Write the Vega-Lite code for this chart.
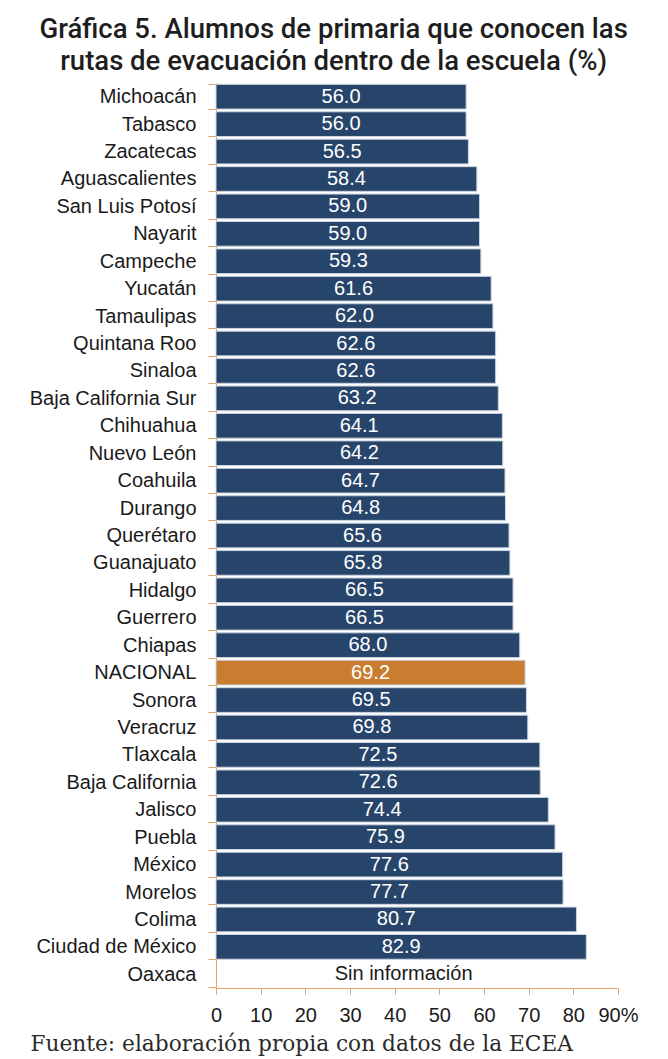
{
  "$schema": "https://vega.github.io/schema/vega-lite/v6.json",
  "autosize": {"type": "none"},
  "padding": {"left": 216, "top": 83, "right": 50, "bottom": 71},
  "width": 402,
  "height": 905,
  "background": "white",
  "title": {
    "text": ["Gráfica 5. Alumnos de primaria que conocen las", "rutas de evacuación dentro de la escuela (%)"],
    "font": "Roboto",
    "fontSize": 27.5,
    "fontWeight": 500,
    "color": "#1e1e1e",
    "anchor": "middle",
    "frame": "bounds",
    "lineHeight": 32,
    "offset": -2
  },
  "data": {
    "values": [
      {"estado": "Michoacán", "valor": 56.0, "tipo": "Estado"},
      {"estado": "Tabasco", "valor": 56.0, "tipo": "Estado"},
      {"estado": "Zacatecas", "valor": 56.5, "tipo": "Estado"},
      {"estado": "Aguascalientes", "valor": 58.4, "tipo": "Estado"},
      {"estado": "San Luis Potosí", "valor": 59.0, "tipo": "Estado"},
      {"estado": "Nayarit", "valor": 59.0, "tipo": "Estado"},
      {"estado": "Campeche", "valor": 59.3, "tipo": "Estado"},
      {"estado": "Yucatán", "valor": 61.6, "tipo": "Estado"},
      {"estado": "Tamaulipas", "valor": 62.0, "tipo": "Estado"},
      {"estado": "Quintana Roo", "valor": 62.6, "tipo": "Estado"},
      {"estado": "Sinaloa", "valor": 62.6, "tipo": "Estado"},
      {"estado": "Baja California Sur", "valor": 63.2, "tipo": "Estado"},
      {"estado": "Chihuahua", "valor": 64.1, "tipo": "Estado"},
      {"estado": "Nuevo León", "valor": 64.2, "tipo": "Estado"},
      {"estado": "Coahuila", "valor": 64.7, "tipo": "Estado"},
      {"estado": "Durango", "valor": 64.8, "tipo": "Estado"},
      {"estado": "Querétaro", "valor": 65.6, "tipo": "Estado"},
      {"estado": "Guanajuato", "valor": 65.8, "tipo": "Estado"},
      {"estado": "Hidalgo", "valor": 66.5, "tipo": "Estado"},
      {"estado": "Guerrero", "valor": 66.5, "tipo": "Estado"},
      {"estado": "Chiapas", "valor": 68.0, "tipo": "Estado"},
      {"estado": "NACIONAL", "valor": 69.2, "tipo": "Nacional"},
      {"estado": "Sonora", "valor": 69.5, "tipo": "Estado"},
      {"estado": "Veracruz", "valor": 69.8, "tipo": "Estado"},
      {"estado": "Tlaxcala", "valor": 72.5, "tipo": "Estado"},
      {"estado": "Baja California", "valor": 72.6, "tipo": "Estado"},
      {"estado": "Jalisco", "valor": 74.4, "tipo": "Estado"},
      {"estado": "Puebla", "valor": 75.9, "tipo": "Estado"},
      {"estado": "México", "valor": 77.6, "tipo": "Estado"},
      {"estado": "Morelos", "valor": 77.7, "tipo": "Estado"},
      {"estado": "Colima", "valor": 80.7, "tipo": "Estado"},
      {"estado": "Ciudad de México", "valor": 82.9, "tipo": "Estado"},
      {"estado": "Oaxaca", "valor": null, "tipo": "Estado"}
    ]
  },
  "transform": [
    {"calculate": "datum.valor == null ? 'Sin información' : format(datum.valor, '.1f')", "as": "etiqueta"},
    {"calculate": "datum.valor == null ? 42 : datum.valor / 2", "as": "posicion"}
  ],
  "encoding": {
    "y": {
      "field": "estado",
      "type": "nominal",
      "sort": null,
      "scale": {"paddingInner": 0.1, "paddingOuter": 0.05},
      "axis": {
        "title": null,
        "labelFont": "Liberation Sans",
        "labelFontSize": 20,
        "labelColor": "#1a1a1a",
        "labelPadding": 12,
        "tickSize": 8,
        "tickColor": "#E3A469",
        "domainColor": "#E3A469",
        "tickBand": "extent",
        "labelLimit": 300
      }
    }
  },
  "layer": [
    {
      "mark": {"type": "bar", "stroke": "#c9d3df", "strokeWidth": 1},
      "encoding": {
        "x": {
          "field": "valor",
          "type": "quantitative",
          "scale": {"domain": [0, 90]},
          "axis": {
            "values": [0, 10, 20, 30, 40, 50, 60, 70, 80, 90],
            "labelExpr": "datum.value == 90 ? '90%' : datum.label",
            "labelOverlap": false,
            "labelBound": false,
            "labelFlush": false,
            "grid": false,
            "labelFont": "Liberation Sans",
            "labelFontSize": 20,
            "labelColor": "#1a1a1a",
            "labelPadding": 11,
            "tickSize": 6,
            "tickColor": "#E3A469",
            "domainColor": "#E3A469",
            "title": "Fuente: elaboración propia con datos de la ECEA",
            "titleFont": "DejaVu Serif",
            "titleFontSize": 21.7,
            "titleFontWeight": "normal",
            "titleColor": "#2a2a2a",
            "titleAnchor": "start",
            "titleAlign": "left",
            "titleBaseline": "alphabetic",
            "titleX": -186,
            "titleY": 62
          }
        },
        "color": {
          "field": "tipo",
          "type": "nominal",
          "scale": {"domain": ["Estado", "Nacional"], "range": ["#27456B", "#C97D30"]},
          "legend": null
        }
      }
    },
    {
      "mark": {"type": "text", "font": "Liberation Sans", "fontSize": 20, "baseline": "middle", "align": "center"},
      "encoding": {
        "x": {"field": "posicion", "type": "quantitative"},
        "text": {"field": "etiqueta", "type": "nominal"},
        "color": {
          "condition": {"test": "datum.valor == null", "value": "#1a1a1a"},
          "value": "white"
        }
      }
    }
  ],
  "config": {
    "view": {"stroke": null}
  }
}
